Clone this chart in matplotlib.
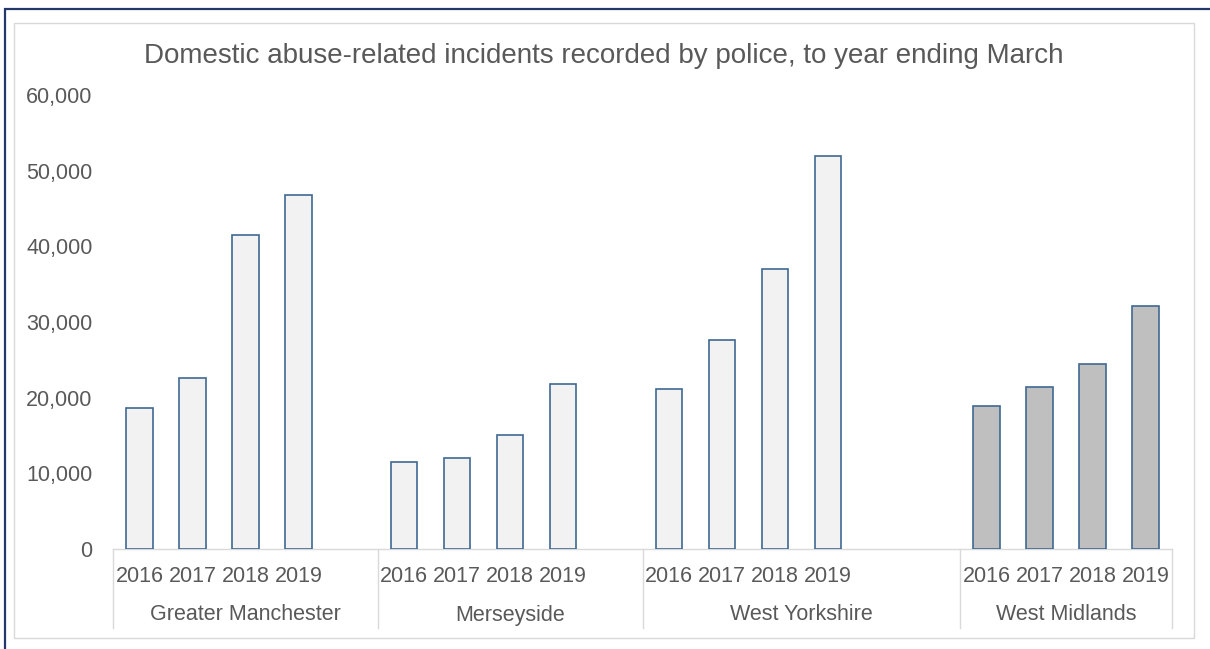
import matplotlib.pyplot as plt
from matplotlib.patches import Rectangle
from matplotlib.ticker import FuncFormatter

plt.rcParams['font.family'] = ['Liberation Sans', 'DejaVu Sans']

# data
forces = ["Greater Manchester", "Merseyside", "West Yorkshire", "West Midlands"]
years = ["2016", "2017", "2018", "2019"]
greater_manchester = [18600, 22600, 41500, 46800]
merseyside = [11500, 12000, 15100, 21800]
west_yorkshire = [21200, 27600, 37000, 51900]
west_midlands = [18900, 21450, 24400, 32150]
values = [greater_manchester, merseyside, west_yorkshire, west_midlands]
fills = ["#F2F2F2", "#F2F2F2", "#F2F2F2", "#BFBFBF"]
# empty category slots after each group
gaps = [1, 1, 2, 0]

text_col = "#595959"
line_col = "#D9D9D9"
edge_col = "#3F6892"

W, H = 1210, 649
fig = plt.figure(figsize=(W / 100, H / 100), dpi=100)
fig.patch.set_facecolor("white")

# outer frames
fig.add_artist(Rectangle((5 / W, -0.5), 2, 0.5 + (H - 9) / H, transform=fig.transFigure,
                         fill=False, edgecolor="#22386A", lw=1.6))
fig.add_artist(Rectangle((14 / W, 1 - 638 / H), (1194 - 14) / W, (638 - 23) / H,
                         transform=fig.transFigure, fill=False, edgecolor=line_col, lw=1.0))

ax = fig.add_axes([113 / W, 1 - 549 / H, (1172 - 113) / W, (549 - 95) / H])
ax.set_facecolor("none")

slot = 0
bounds = [-0.5]
for vals, fill, gap in zip(values, fills, gaps):
    xs = [slot + i for i in range(len(years))]
    ax.bar(xs, vals, width=0.5, color=fill, edgecolor=edge_col, linewidth=1.2, zorder=3)
    for x, yr in zip(xs, years):
        ax.text(x, -28 / 454, yr, transform=ax.get_xaxis_transform(), ha="center",
                va="center", fontsize=15.5, color=text_col)
    slot += len(years) + gap
    bounds.append(slot - 0.5)

for i, name in enumerate(forces):
    ax.text((bounds[i] + bounds[i + 1]) / 2, -66 / 454, name, transform=ax.get_xaxis_transform(),
            ha="center", va="center", fontsize=15.5, color=text_col)

# category axis line and group separators
ax.plot([bounds[0], bounds[-1]], [0, 0], color=line_col, lw=1.0, transform=ax.get_xaxis_transform(),
        clip_on=False, zorder=2)
for b in bounds:
    ax.plot([b, b], [0, -79 / 454], color=line_col, lw=1.0, transform=ax.get_xaxis_transform(),
            clip_on=False)

ax.set_xlim(bounds[0], bounds[-1])
ax.set_ylim(0, 60000)
ax.set_yticks(range(0, 60001, 10000))
ax.yaxis.set_major_formatter(FuncFormatter(lambda v, p: f"{int(v):,}"))
ax.set_xticks([])
ax.tick_params(axis="y", length=0, pad=14.6, labelsize=15.5, labelcolor=text_col)
for s in ax.spines.values():
    s.set_visible(False)

fig.text(604 / W, 1 - 56 / H, "Domestic abuse-related incidents recorded by police, to year ending March",
         ha="center", va="center", fontsize=20, color=text_col)

fig.savefig("out.png", dpi=100)
